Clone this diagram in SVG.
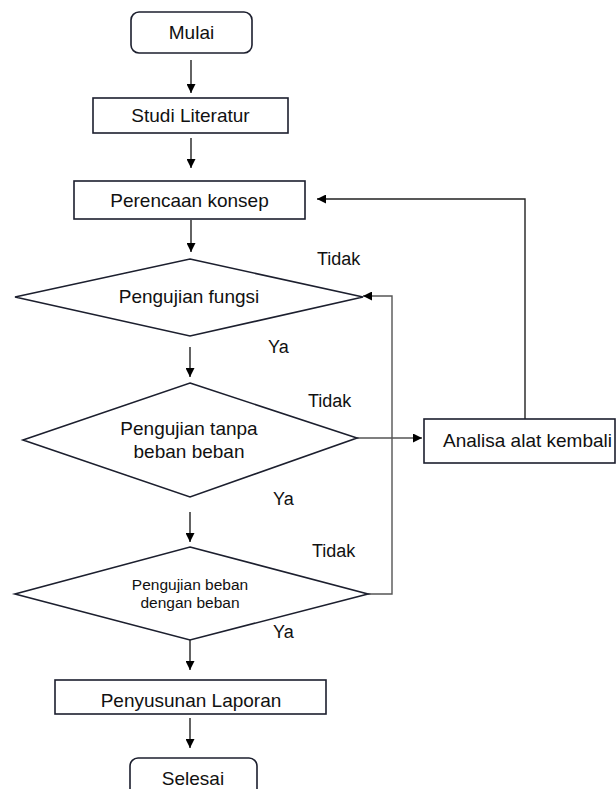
<svg xmlns="http://www.w3.org/2000/svg" width="616" height="789" viewBox="0 0 616 789">
<style>
.box{fill:#fff;stroke:#1c1f2e;stroke-width:1.6}
.dia{fill:#fff;stroke:#1c1f2e;stroke-width:1.6}
.t{font-family:"Liberation Sans",Arial,sans-serif;font-size:19px;fill:#111;text-anchor:middle}
.s{font-family:"Liberation Sans",Arial,sans-serif;font-size:15.5px;fill:#111;text-anchor:middle}
.lbl{font-family:"Liberation Sans",Arial,sans-serif;font-size:18px;fill:#111}
.c{fill:none;stroke:#222;stroke-width:1.4}
.g{fill:none;stroke:#555;stroke-width:1.4}
</style>
<defs>
<marker id="ah" viewBox="0 0 10 10" refX="10" refY="5" markerWidth="9" markerHeight="9" markerUnits="userSpaceOnUse" orient="auto">
<path d="M0,0 L10,5 L0,10 z" fill="#000"/>
</marker>
</defs>
<rect width="616" height="789" fill="#fff"/>
<g id="connectors">
<line class="c" x1="191" y1="60" x2="191" y2="93" marker-end="url(#ah)"/>
<line class="c" x1="191" y1="138" x2="191" y2="168" marker-end="url(#ah)"/>
<line class="c" x1="191" y1="220" x2="191" y2="252" marker-end="url(#ah)"/>
<line class="c" x1="190" y1="347" x2="190" y2="377" marker-end="url(#ah)"/>
<line class="c" x1="190" y1="512" x2="190" y2="542" marker-end="url(#ah)"/>
<line class="c" x1="190" y1="640" x2="190" y2="670" marker-end="url(#ah)"/>
<line class="c" x1="190" y1="718" x2="190" y2="748" marker-end="url(#ah)"/>
<polyline class="g" points="357,438 422,438" marker-end="url(#ah)"/>
<polyline class="g" points="368,594 392,594 392,296 363,296" marker-end="url(#ah)"/>
<polyline class="c" points="525,419 525,199 317,199" marker-end="url(#ah)"/>
</g>
<g id="mulai">
<rect class="box" x="131" y="12" width="121" height="41" rx="8"/>
<text class="t" x="191.5" y="39">Mulai</text>
</g>
<g id="studi">
<rect class="box" x="93" y="98" width="195" height="35"/>
<text class="t" x="190.5" y="122">Studi Literatur</text>
</g>
<g id="perencaan">
<rect class="box" x="74" y="181" width="231" height="38"/>
<text class="t" x="189.5" y="207">Perencaan konsep</text>
</g>
<g id="fungsi">
<polygon class="dia" points="190,259 363,297 190,336 15,297"/>
<text class="t" x="189" y="303">Pengujian fungsi</text>
</g>
<g id="tanpa">
<polygon class="dia" points="190,383 357,438 190,497 23,440"/>
<text class="t" x="189" y="435">Pengujian tanpa</text>
<text class="t" x="189" y="458">beban beban</text>
</g>
<g id="dengan">
<polygon class="dia" points="190,547 368,594 190,640 15,594"/>
<text class="s" x="190" y="590">Pengujian beban</text>
<text class="s" x="190" y="608">dengan beban</text>
</g>
<g id="analisa">
<rect class="box" x="424" y="419" width="191" height="44"/>
<text class="t" x="527.5" y="447">Analisa alat kembali</text>
</g>
<g id="penyusunan">
<rect class="box" x="55" y="680" width="271" height="34"/>
<text class="t" x="191" y="707">Penyusunan Laporan</text>
</g>
<g id="selesai">
<rect class="box" x="130" y="758" width="127" height="45" rx="8"/>
<text class="t" x="193" y="785">Selesai</text>
</g>
<g id="labels">
<text class="lbl" x="317" y="265">Tidak</text>
<text class="lbl" x="268" y="353">Ya</text>
<text class="lbl" x="308" y="407">Tidak</text>
<text class="lbl" x="273" y="505">Ya</text>
<text class="lbl" x="312" y="557">Tidak</text>
<text class="lbl" x="273" y="638">Ya</text>
</g>
</svg>
